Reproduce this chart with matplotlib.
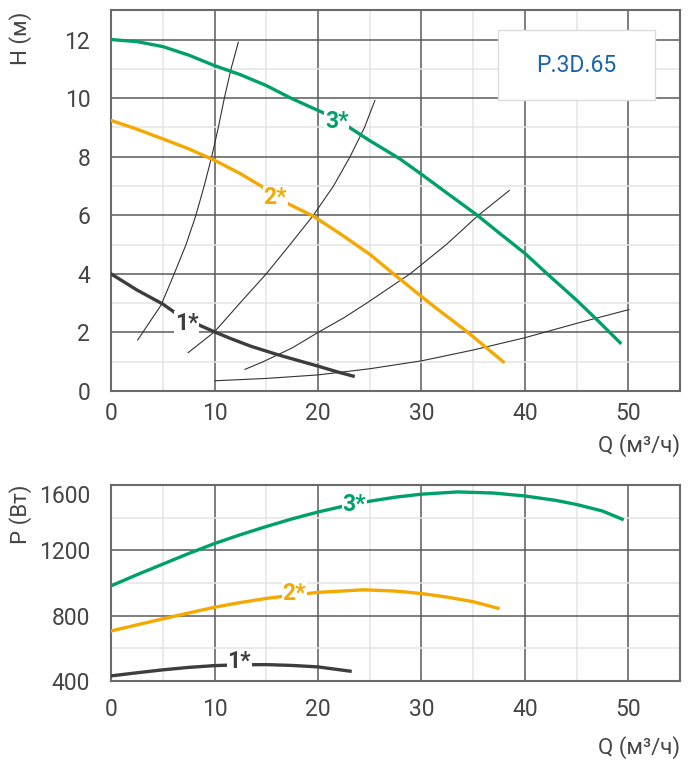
import matplotlib
matplotlib.use("Agg")
import matplotlib.pyplot as plt
from matplotlib.patches import Rectangle
from matplotlib.ticker import MultipleLocator

plt.rcParams['font.family'] = ['Roboto', 'DejaVu Sans']

# --- H(Q) curves (top chart)
q3 = [0, 2.5, 5, 7.5, 10, 12.5, 15, 17.5, 20.7, 22.9, 25, 27.9, 30, 32.5, 35.4,
      37.5, 40, 42, 45, 47, 49.2]
h3 = [12.0, 11.93, 11.76, 11.47, 11.11, 10.8, 10.43, 9.98, 9.47, 9.03, 8.55, 7.93,
      7.4, 6.75, 6.0, 5.4, 4.7, 4.05, 3.1, 2.42, 1.65]
q2 = [0, 2.5, 5, 7.5, 10, 12.5, 14.65, 16.97, 19.55, 22.1, 25, 27.3, 30.8, 34.5, 37.9]
h2 = [9.24, 8.94, 8.61, 8.27, 7.88, 7.42, 6.97, 6.42, 5.97, 5.38, 4.67, 4.0, 3.0,
      2.0, 1.0]
q1 = [0, 2.5, 5, 6.28, 8.53, 10, 11.5, 13.5, 16.2, 18, 20, 22, 23.4]
h1 = [4.0, 3.45, 2.97, 2.65, 2.25, 2.02, 1.8, 1.53, 1.23, 1.05, 0.85, 0.64, 0.51]

# system curves (thin lines)
sysA_q = [2.57, 4.83, 6.1, 7.25, 8.2, 9.0, 9.73, 10.37, 10.95, 11.6, 12.3]
sysA_h = [1.74, 2.93, 4.0, 5.0, 6.0, 7.0, 8.0, 9.0, 10.0, 11.0, 11.91]
sysB_q = [7.45, 10, 12.45, 15.0, 17.3, 19.55, 21.5, 23.1, 24.5, 25.5]
sysB_h = [1.31, 2.02, 3.0, 4.0, 5.0, 6.0, 7.0, 8.0, 9.0, 9.92]
sysC_q = [12.95, 14.7, 17.5, 20.0, 22.5, 24.7, 28.9, 32.4, 35.5, 38.5]
sysC_h = [0.74, 1.0, 1.47, 2.0, 2.5, 3.0, 4.0, 5.0, 6.0, 6.85]
sysD_q = [10.05, 15, 20, 25, 30, 35, 40, 45, 50.05]
sysD_h = [0.35, 0.43, 0.55, 0.76, 1.03, 1.4, 1.82, 2.31, 2.78]

# --- P(Q) curves (bottom chart)
pq3 = [0, 2.5, 5, 7.5, 10, 12.5, 15, 17.5, 20, 22.5, 25, 27.5, 30, 33.5, 37, 40,
       43, 45, 47.5, 49.4]
p3 = [982, 1050, 1115, 1180, 1241, 1295, 1345, 1392, 1434, 1470, 1500, 1525, 1543,
      1557, 1550, 1532, 1505, 1480, 1440, 1390]
pq2 = [0, 2.5, 5, 7.5, 10, 12.5, 15, 17.5, 20, 24.4, 27.5, 30, 32.5, 35, 37.4]
p2 = [706, 743, 780, 816, 851, 880, 905, 925, 942, 958, 950, 935, 913, 885, 845]
pq1 = [0, 2.5, 5, 7.5, 10, 12.5, 15, 17.5, 20, 23.1]
p1 = [431, 450, 468, 483, 494, 499, 500, 495, 486, 460]

# curve labels (x, y)
lab_h = {'3*': (21.8, 9.2), '2*': (15.9, 6.6), '1*': (7.3, 2.3)}
lab_p = {'3*': (23.5, 1480), '2*': (17.7, 933), '1*': (12.4, 517)}

green = '#00a06a'
orange = '#f5a800'
dark = '#3d3d3d'
cols = {'3*': green, '2*': orange, '1*': dark}
txt = '#454545'

fig = plt.figure(figsize=(6.94, 7.6), dpi=100)
ax1 = fig.add_axes([0.16, 0.4855, 0.82, 0.501])
ax2 = fig.add_axes([0.16, 0.104, 0.82, 0.258])


def style(ax, ymin, ymax, ymaj, ymin_step, xpad):
    ax.set_xlim(0, 55)
    ax.set_ylim(ymin, ymax)
    ax.xaxis.set_major_locator(MultipleLocator(10))
    ax.xaxis.set_minor_locator(MultipleLocator(5))
    ax.yaxis.set_major_locator(MultipleLocator(ymaj))
    ax.yaxis.set_minor_locator(MultipleLocator(ymin_step))
    ax.grid(which='major', color='#5a5a5a', lw=1.1, zorder=0)
    ax.grid(which='minor', color='#e4e4e4', lw=1.1, zorder=0)
    ax.set_axisbelow(True)
    ax.tick_params(which='both', length=0, labelsize=16.5, colors=txt)
    ax.tick_params(axis='x', pad=xpad)
    ax.tick_params(axis='y', pad=15)
    for s in ax.spines.values():
        s.set_color('#6a6a6a')
        s.set_linewidth(1.5)


style(ax1, 0, 13, 2, 1, 8)
style(ax2, 400, 1600, 400, 200, 12)
ax1.set_xticks([0, 10, 20, 30, 40, 50])
ax2.set_xticks([0, 10, 20, 30, 40, 50])
ax1.set_yticks([0, 2, 4, 6, 8, 10, 12])
ax2.set_yticks([400, 800, 1200, 1600])
ax2.get_yticklabels()[-1].set_verticalalignment('top')

# thin system curves
for xs, ys in [(sysA_q, sysA_h), (sysB_q, sysB_h), (sysC_q, sysC_h), (sysD_q, sysD_h)]:
    ax1.plot(xs, ys, color='#333333', lw=0.8, zorder=2)

ax1.plot(q3, h3, color=green, lw=2.4, zorder=3)
ax1.plot(q2, h2, color=orange, lw=2.4, zorder=3)
ax1.plot(q1, h1, color=dark, lw=2.4, zorder=3)

ax2.plot(pq3, p3, color=green, lw=2.4, zorder=3)
ax2.plot(pq2, p2, color=orange, lw=2.4, zorder=3)
ax2.plot(pq1, p1, color=dark, lw=2.4, zorder=3)

for ax, labs in [(ax1, lab_h), (ax2, lab_p)]:
    for k, (x, y) in labs.items():
        ax.text(x, y, k, color=cols[k], fontsize=16.5, fontweight='bold',
                ha='center', va='center', zorder=4,
                bbox=dict(facecolor='white', edgecolor='none', pad=0.5))

# model box
ax1.add_patch(Rectangle((0.680, 0.764), 0.276, 0.1835, transform=ax1.transAxes,
                        facecolor='white', edgecolor='#dcdcdc', lw=1, zorder=5))
ax1.text(0.818, 0.856, 'P.3D.65', transform=ax1.transAxes, color='#1a64ae',
         fontsize=16.5, ha='center', va='center', zorder=6)

# axis labels
fig.text(0.029, 1 - 12 / 760, 'H (м)', rotation=90, ha='center', va='top',
         fontsize=16, color=txt)
fig.text(0.029, 1 - 485 / 760, 'P (Вт)', rotation=90, ha='center', va='top',
         fontsize=16, color=txt)
fig.text(0.98, 1 - 446 / 760, 'Q (м³/ч)', ha='right', va='center',
         fontsize=16, color=txt)
fig.text(0.98, 1 - 748 / 760, 'Q (м³/ч)', ha='right', va='center',
         fontsize=16, color=txt)

fig.savefig('out.png', dpi=100)
